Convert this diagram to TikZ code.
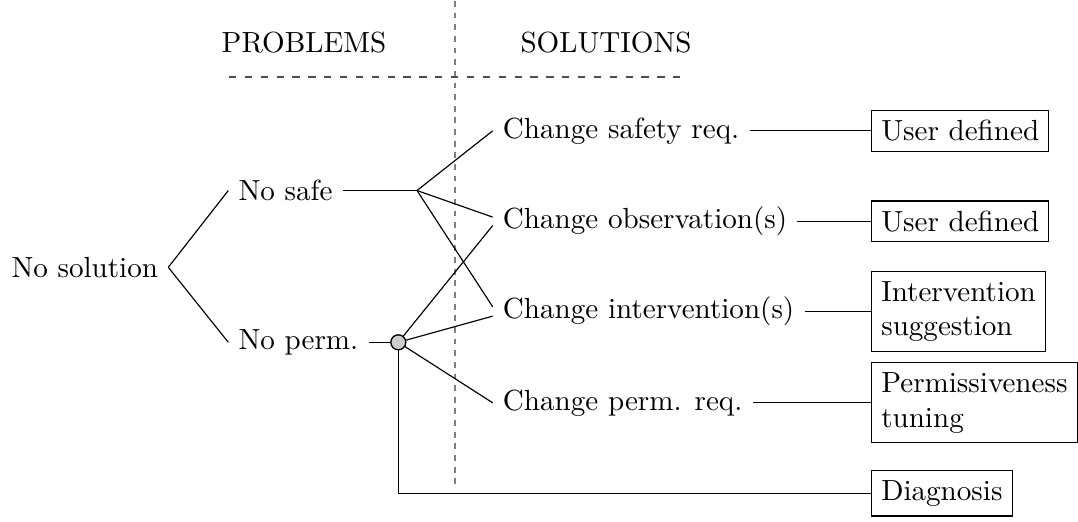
\documentclass[tikz,border=0pt]{standalone}
\usetikzlibrary{calc}
\begin{document}
\begin{tikzpicture}[x=0.3436pt,y=-0.3436pt,
  lbl/.style={inner sep=3.33pt},
  box/.style={draw, inner sep=3.33pt, align=left},
  vsep/.style={gray, dash pattern=on 2pt off 2pt},
  hsep/.style={black!70, dash pattern=on 2.5pt off 2.95pt},
  hub/.style={circle, draw, fill=gray!40, inner sep=0pt, minimum size=5.1pt},
]
\useasboundingbox (0,0) rectangle (1078,521);
% separators
\draw[vsep] (455,1) -- (455,488);
\draw[hsep] (229,77) -- (685,77);
% headers
\node[lbl] (prob) at (304,43) {PROBLEMS};
\node[lbl] (sol) at (606,43) {SOLUTIONS};
% problems
\node[lbl, anchor=east] (nosol) at (168.3,267.3) {No solution};
\node[lbl, anchor=west] (nosafe) at (228.3,190.5) {No safe};
\node[lbl, anchor=west] (noperm) at (228.3,342.3) {No perm.};
\coordinate (j) at (417,190.5);
\node[hub] (c) at (398.3,342.3) {};
% solutions
\node[lbl, anchor=west] (csafe) at (492.7,130.8) {Change safety req.};
\node[lbl, anchor=west] (cobs) at (492.7,221.3) {Change observation(s)};
\node[lbl, anchor=west] (cint) at (492.7,311.5) {Change intervention(s)};
\node[lbl, anchor=west] (cperm) at (492.7,402.8) {Change perm. req.};
% tools
\node[box, anchor=west] (ud1) at (871,130.8) {User defined};
\node[box, anchor=west] (ud2) at (871,221.3) {User defined};
\node[box, anchor=west] (sugg) at (871,311.5) {Intervention\\suggestion};
\node[box, anchor=west] (tune) at (871,402.8) {Permissiveness\\tuning};
\node[box, anchor=west] (diag) at (871,493.3) {Diagnosis};
% connectors
\draw (nosol.east) -- (nosafe.west);
\draw (nosol.east) -- (noperm.west);
\draw[line width=0.65pt] (nosafe.east) -- (j);
\draw (j) -- (csafe.west);
\draw (j) -- ($(cobs.west)+(0,-4.2)$);
\draw (j) -- ($(cint.west)+(0,-4.7)$);
\draw (noperm.east) -- (c);
\draw (c) -- ($(cobs.west)+(0,4.2)$);
\draw (c) -- ($(cint.west)+(0,4.6)$);
\draw (c) -- (cperm.west);
\draw (c) |- (diag.west);
\draw (csafe.east) -- (csafe.east -| ud1.west);
\draw (cobs.east) -- (cobs.east -| ud2.west);
\draw (cint.east) -- (cint.east -| sugg.west);
\draw (cperm.east) -- (cperm.east -| tune.west);
\node[hub] at (c) {};
\end{tikzpicture}
\end{document}
